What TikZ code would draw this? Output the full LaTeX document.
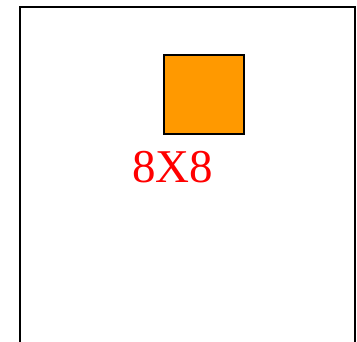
\documentclass[tikz,border=0pt]{standalone}
\usepackage{fontspec}
\setmainfont{Liberation Serif}
\newfontfamily\timesfont{Liberation Serif}
\definecolor{boxorange}{RGB}{255,153,0}
\begin{document}
\begin{tikzpicture}[x=1pt,y=-1pt,
  frame/.style={draw=black,line width=2pt},
  sqbox/.style={draw=black,line width=2pt,fill=boxorange,minimum width=80pt,minimum height=79pt,inner sep=0pt,outer sep=0pt},
  lbl/.style={text=red,font=\timesfont\fontsize{47}{50}\selectfont,inner sep=0pt,anchor=base}]
\path[use as bounding box] (0,0) rectangle (357,341);
\clip (0,0) rectangle (357,341);
\draw[frame] (20,360) -- (20,7) -- (355,7) -- (355,360);
\node[sqbox] (sq) at (204,94.5) {};
\node[lbl] (t) at (172.5,182.5) {8X8};
\end{tikzpicture}
\end{document}
